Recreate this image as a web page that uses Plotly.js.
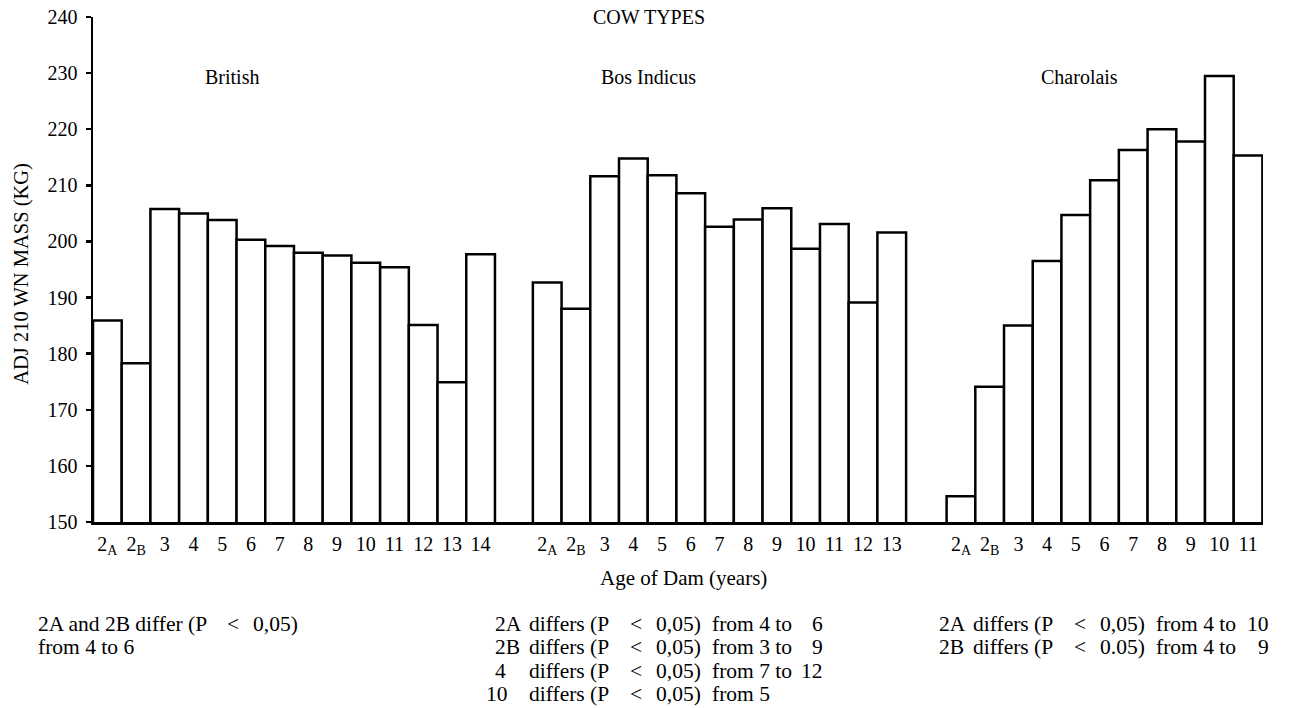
<!DOCTYPE html>
<html>
<head>
<meta charset="utf-8">
<script src="https://cdn.plot.ly/plotly-3.0.1.min.js"></script>
<style>
  html, body { margin: 0; padding: 0; background: #ffffff; }
  #chart { width: 1290px; height: 708px; }
</style>
</head>
<body>
<div id="chart"></div>
<script>
// ---------------- DATA ----------------
const groupNames = ['British', 'Bos Indicus', 'Charolais'];

const britishLabels = ['2<sub>A</sub>', '2<sub>B</sub>', '3', '4', '5', '6', '7', '8', '9', '10', '11', '12', '13', '14'];
const britishValues = [185.9, 178.3, 205.8, 205.0, 203.8, 200.3, 199.2, 198.0, 197.5, 196.2, 195.4, 185.1, 174.9, 197.7];

const bosLabels = ['2<sub>A</sub>', '2<sub>B</sub>', '3', '4', '5', '6', '7', '8', '9', '10', '11', '12', '13'];
const bosValues = [192.7, 188.0, 211.6, 214.8, 211.8, 208.6, 202.6, 203.9, 205.9, 198.7, 203.1, 189.1, 201.6];

const charolaisLabels = ['2<sub>A</sub>', '2<sub>B</sub>', '3', '4', '5', '6', '7', '8', '9', '10', '11'];
const charolaisValues = [154.6, 174.1, 185.0, 196.5, 204.7, 210.9, 216.3, 220.0, 217.8, 229.5, 215.3];

const yTicks = [150, 160, 170, 180, 190, 200, 210, 220, 230, 240];

const chartTitle = 'COW TYPES';
const xTitle = 'Age of Dam (years)';
const yTitle = 'ADJ 210 WN MASS (KG)';

// significance notes, split into their printed columns
const leftNotes = [
  ['2A and 2B differ (P', '<', '0,05)'],
  ['from 4 to 6', '', '']
];
const midNotes = [
  ['2A', 'differs (P', '<', '0,05)', 'from 4 to', '6'],
  ['2B', 'differs (P', '<', '0,05)', 'from 3 to', '9'],
  ['4',  'differs (P', '<', '0,05)', 'from 7 to', '12'],
  ['10', 'differs (P', '<', '0,05)', 'from 5', '']
];
const rightNotes = [
  ['2A', 'differs (P', '<', '0,05)', 'from 4 to', '10'],
  ['2B', 'differs (P', '<', '0.05)', 'from 4 to', '9']
];

// ---------------- LAYOUT CONSTANTS ----------------
const FONT = '"Liberation Serif", "Times New Roman", Times, serif';
const W = 1290, H = 708;
const M = { l: 93, r: 26.5, t: 17, b: 185.5 };
const PW = W - M.l - M.r, PH = H - M.t - M.b;
const groupStart = [0, 15.32, 29.73];   // x-offset (in bar widths) of each group
const xMax = 40.75;

const px = x => (x - M.l) / PW;
const py = y => (H - M.b - y) / PH;

const groups = [
  { labels: britishLabels, values: britishValues },
  { labels: bosLabels, values: bosValues },
  { labels: charolaisLabels, values: charolaisValues }
];

const traces = [];
const tickvals = [], ticktext = [];
groups.forEach((g, gi) => {
  const xs = g.values.map((v, i) => groupStart[gi] + i + 0.5);
  xs.forEach((x, i) => { tickvals.push(x); ticktext.push(g.labels[i]); });
  traces.push({
    type: 'bar',
    name: groupNames[gi],
    x: xs,
    y: g.values,
    width: 1,
    marker: { color: '#ffffff', line: { color: '#000000', width: 2.5 } },
    hoverinfo: 'y'
  });
});

const txt = (text, x, y, opts) => Object.assign({
  text: text, xref: 'paper', yref: 'paper', x: px(x), y: py(y),
  showarrow: false, xanchor: 'center', yanchor: 'middle',
  font: { family: FONT, size: 20, color: '#000' }
}, opts || {});

const annotations = [];
annotations.push(txt(chartTitle, 649, 17));
annotations.push(txt(groupNames[0], 232, 77));
annotations.push(txt(groupNames[1], 649, 77));
annotations.push(txt(groupNames[2], 1080, 77));
annotations.push(txt(xTitle, 684, 579, { font: { family: FONT, size: 21, color: '#000' } }));
annotations.push(txt(yTitle, 22, 274, { textangle: -90, font: { family: FONT, size: 20.5, color: '#000' } }));

const noteFont = { family: FONT, size: 21.5, color: '#000' };
const lineY = [625, 648, 671.5, 695];
const addPieces = (row, xs, yy, lastRightX) => {
  row.forEach((t, k) => {
    if (!t) return;
    if (k === row.length - 1 && lastRightX) {
      annotations.push(txt(t, lastRightX, yy, { xanchor: 'right', font: noteFont }));
    } else {
      annotations.push(txt(t, xs[k], yy, { xanchor: 'left', font: noteFont }));
    }
  });
};
leftNotes.forEach((row, i) => addPieces(row, [36, 225, 251], lineY[i], null));
midNotes.forEach((row, i) => {
  const lx = i === 3 ? 484 : 493;
  addPieces(row, [lx, 527, 628, 654, 710], lineY[i], 825);
});
rightNotes.forEach((row, i) => addPieces(row, [937, 971, 1072, 1098, 1154], lineY[i], 1272));

const layout = {
  width: W, height: H,
  margin: M,
  paper_bgcolor: '#ffffff', plot_bgcolor: '#ffffff',
  showlegend: false,
  barmode: 'overlay',
  xaxis: {
    range: [0, xMax], showgrid: false, zeroline: false,
    showline: true, linecolor: '#000', linewidth: 2.5,
    ticks: '', tickvals: tickvals, ticktext: ticktext,
    tickfont: { family: FONT, size: 20, color: '#000' },
    ticklabelstandoff: 2, fixedrange: true
  },
  yaxis: {
    range: [150, 240], showgrid: false, zeroline: false,
    showline: true, linecolor: '#000', linewidth: 2.5,
    ticks: 'outside', ticklen: 5, tickwidth: 2.5, tickcolor: '#000',
    tickvals: yTicks, ticktext: yTicks.map(String),
    tickfont: { family: FONT, size: 20, color: '#000' },
    ticklabelstandoff: 4, fixedrange: true
  },
  annotations: annotations,
  font: { family: FONT, color: '#000' }
};

Plotly.newPlot('chart', traces, layout, { displayModeBar: false, staticPlot: true });
</script>
</body>
</html>
